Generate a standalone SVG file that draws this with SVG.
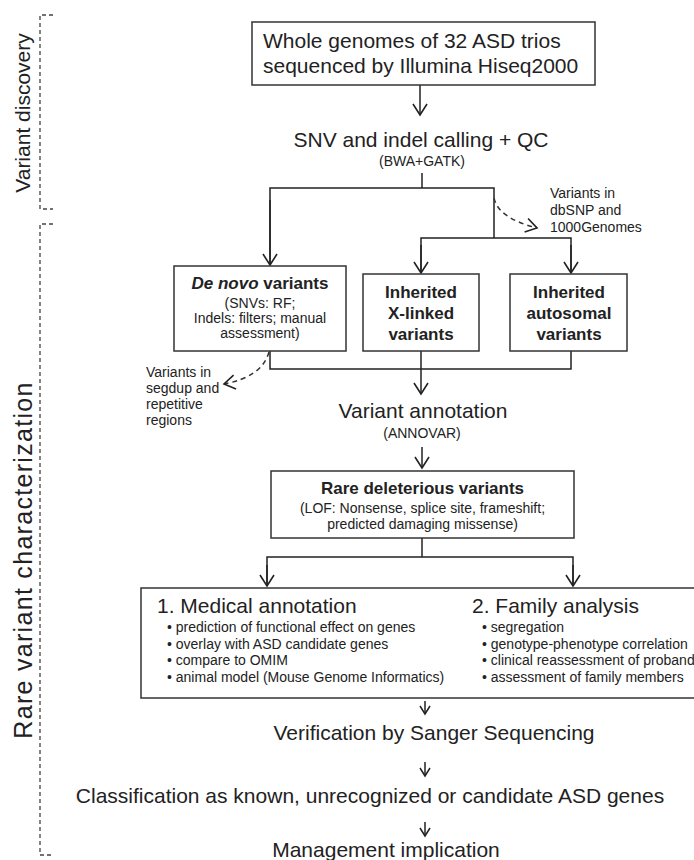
<svg xmlns="http://www.w3.org/2000/svg" width="694" height="860" viewBox="0 0 694 860">
<style>
text{font-family:"Liberation Sans",Arial,sans-serif;fill:#222}
.big{font-size:21px}
.sm{font-size:14px}
.bd{font-size:17px;font-weight:bold}
.mid{text-anchor:middle}
.box{fill:#fff;stroke:#333;stroke-width:1.5}
.ln{fill:none;stroke:#222;stroke-width:1.5}
.dash{fill:none;stroke:#333;stroke-width:1.5;stroke-dasharray:5 4}
.br{fill:none;stroke:#444;stroke-width:1.3;stroke-dasharray:4 3}
</style>
<defs>
<marker id="ah" markerUnits="userSpaceOnUse" viewBox="-13 -8 15 16" refX="0" refY="0" markerWidth="15" markerHeight="16" orient="auto" overflow="visible">
<path d="M-11,-7 L0,0 L-11,7" fill="none" stroke="#222" stroke-width="1.6"/>
</marker>
<marker id="ahs" markerUnits="userSpaceOnUse" viewBox="-9 -6 11 12" refX="0" refY="0" markerWidth="11" markerHeight="12" orient="auto" overflow="visible">
<path d="M-8,-5 L0,0 L-8,5" fill="none" stroke="#222" stroke-width="1.5"/>
</marker>
</defs>

<g id="brackets">
<path class="br" d="M53,15 H40 V209 H53"/>
<path class="br" d="M53,224 H40 V855 H53"/>
<text class="big mid" transform="translate(30,113) rotate(-90)">Variant discovery</text>
<text class="mid" font-size="25" letter-spacing="1.3" transform="translate(32,560) rotate(-90)">Rare variant characterization</text>
</g>

<g id="connectors">
<line class="ln" x1="420" y1="85" x2="420" y2="115" marker-end="url(#ah)"/>
<line class="ln" x1="422" y1="173" x2="422" y2="188"/>
<polyline class="ln" points="270,265 270,188 494,188 494,238"/>
<line class="ln" x1="270" y1="200" x2="270" y2="265" marker-end="url(#ah)"/>
<polyline class="ln" points="421,273 421,238 571,238 571,273"/>
<line class="ln" x1="421" y1="245" x2="421" y2="273" marker-end="url(#ah)"/>
<line class="ln" x1="571" y1="245" x2="571" y2="273" marker-end="url(#ah)"/>
<path class="dash" d="M494,198 Q498,218 537,228" marker-end="url(#ah)"/>
<polyline class="ln" points="270,351 270,369 571,369 571,351"/>
<line class="ln" x1="421" y1="351" x2="421" y2="394" marker-end="url(#ah)"/>
<path class="dash" d="M269,352 Q262,377 224,384" marker-end="url(#ah)"/>
<line class="ln" x1="422" y1="447" x2="422" y2="468" marker-end="url(#ah)"/>
<line class="ln" x1="422" y1="538" x2="422" y2="557"/>
<polyline class="ln" points="267,586 267,557 573,557 573,586"/>
<line class="ln" x1="267" y1="565" x2="267" y2="586" marker-end="url(#ah)"/>
<line class="ln" x1="573" y1="565" x2="573" y2="586" marker-end="url(#ah)"/>
<line class="ln" x1="425" y1="701" x2="425" y2="714" marker-end="url(#ahs)"/>
<line class="ln" x1="425" y1="762" x2="425" y2="776" marker-end="url(#ahs)"/>
<line class="ln" x1="425" y1="822" x2="425" y2="836" marker-end="url(#ahs)"/>
</g>

<g id="wgs">
<rect class="box" x="252" y="22" width="343" height="63"/>
<text class="big" x="263" y="48">Whole genomes of 32 ASD trios</text>
<text class="big" x="263" y="73">sequenced by Illumina Hiseq2000</text>
</g>

<g id="calling">
<text class="big mid" x="421" y="147">SNV and indel calling + QC</text>
<text class="sm mid" x="422" y="166">(BWA+GATK)</text>
</g>

<g id="dbsnp">
<text class="sm" x="550" y="198">Variants in</text>
<text class="sm" x="550" y="215">dbSNP and</text>
<text class="sm" x="550" y="232">1000Genomes</text>
</g>

<g id="denovo">
<rect class="box" x="174" y="266" width="172" height="85"/>
<text class="bd mid" x="260" y="289"><tspan font-style="italic">De novo</tspan> variants</text>
<text class="sm mid" x="260" y="308">(SNVs: RF;</text>
<text class="sm mid" x="260" y="323">Indels: filters; manual</text>
<text class="sm mid" x="260" y="338">assessment)</text>
</g>

<g id="xlinked">
<rect class="box" x="363" y="274" width="116" height="77"/>
<text class="bd mid" x="421" y="298">Inherited</text>
<text class="bd mid" x="421" y="319">X-linked</text>
<text class="bd mid" x="421" y="340">variants</text>
</g>

<g id="autosomal">
<rect class="box" x="510" y="274" width="117" height="77"/>
<text class="bd mid" x="569" y="298">Inherited</text>
<text class="bd mid" x="569" y="319">autosomal</text>
<text class="bd mid" x="569" y="340">variants</text>
</g>

<g id="segdup">
<text class="sm" x="146" y="377">Variants in</text>
<text class="sm" x="146" y="393">segdup and</text>
<text class="sm" x="146" y="409">repetitive</text>
<text class="sm" x="146" y="425">regions</text>
</g>

<g id="annotation">
<text class="big mid" x="423" y="418">Variant annotation</text>
<text class="sm mid" x="422" y="438">(ANNOVAR)</text>
</g>

<g id="rare">
<rect class="box" x="271" y="471" width="303" height="67"/>
<text class="bd mid" x="422.5" y="494">Rare deleterious variants</text>
<text class="sm mid" x="422.5" y="512.5">(LOF: Nonsense, splice site, frameshift;</text>
<text class="sm mid" x="422.5" y="528.5">predicted damaging missense)</text>
</g>

<g id="analysis">
<rect class="box" x="141" y="588" width="570" height="110"/>
<text class="big" x="157" y="613">1. Medical annotation</text>
<text class="sm" x="167" y="632">• prediction of functional effect on genes</text>
<text class="sm" x="167" y="648.5">• overlay with ASD candidate genes</text>
<text class="sm" x="167" y="665">• compare to OMIM</text>
<text class="sm" x="167" y="681.5">• animal model (Mouse Genome Informatics)</text>
<text class="big" x="472" y="613">2. Family analysis</text>
<text class="sm" x="482" y="632">• segregation</text>
<text class="sm" x="482" y="648.5">• genotype-phenotype correlation</text>
<text class="sm" x="482" y="665">• clinical reassessment of proband</text>
<text class="sm" x="482" y="681.5">• assessment of family members</text>
</g>

<g id="verification">
<text class="big mid" x="434" y="740">Verification by Sanger Sequencing</text>
</g>

<g id="classification">
<text class="big mid" x="370" y="803">Classification as known, unrecognized or candidate ASD genes</text>
</g>

<g id="management">
<text class="big mid" x="386" y="857">Management implication</text>
</g>
</svg>
